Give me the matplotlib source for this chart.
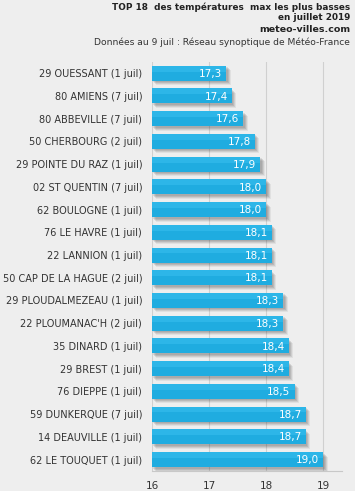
import matplotlib
matplotlib.use("Agg")
import matplotlib.pyplot as plt
import matplotlib.transforms as mtransforms

stations = ["29 OUESSANT (1 juil)", "80 AMIENS (7 juil)", "80 ABBEVILLE (7 juil)",
            "50 CHERBOURG (2 juil)", "29 POINTE DU RAZ (1 juil)", "02 ST QUENTIN (7 juil)",
            "62 BOULOGNE (1 juil)", "76 LE HAVRE (1 juil)", "22 LANNION (1 juil)",
            "50 CAP DE LA HAGUE (2 juil)", "29 PLOUDALMEZEAU (1 juil)", "22 PLOUMANAC'H (2 juil)",
            "35 DINARD (1 juil)", "29 BREST (1 juil)", "76 DIEPPE (1 juil)",
            "59 DUNKERQUE (7 juil)", "14 DEAUVILLE (1 juil)", "62 LE TOUQUET (1 juil)"]
values = [17.3, 17.4, 17.6, 17.8, 17.9, 18.0, 18.0, 18.1, 18.1,
          18.1, 18.3, 18.3, 18.4, 18.4, 18.5, 18.7, 18.7, 19.0]
xticks = [16, 17, 18, 19]

bg = "#EEEEEE"
fig = plt.figure(figsize=(3.55, 4.91), dpi=100, facecolor=bg)
ax = fig.add_axes([0.428, 0.041, 0.535, 0.833], facecolor=bg)

y = list(range(len(values)))
base = 16
widths = [v - base for v in values]

# blurred drop shadow
for dx, dy, a in [(1.5, -1.5, 0.12), (2.5, -2.5, 0.14), (3.5, -3.5, 0.12), (4.5, -4.5, 0.08)]:
    tr = mtransforms.offset_copy(ax.transData, fig=fig, x=dx, y=dy, units="dots")
    ax.barh(y, widths, left=base, height=0.66, color="#444444", alpha=a,
            transform=tr, zorder=2, linewidth=0)

ax.barh(y, widths, left=base, height=0.66, color="#1FACE0", zorder=3, linewidth=0)
# subtle lighter top strip
ax.barh([yy - 0.2 for yy in y], widths, left=base, height=0.26, color="#2DB6E8",
        zorder=3.5, linewidth=0)

for yy, v in zip(y, values):
    ax.text(v - 0.07, yy + 0.03, f"{v:.1f}".replace(".", ","), color="white",
            ha="right", va="center", fontsize=7.5, zorder=5, family="DejaVu Sans")

ax.set_xlim(16, 19.33)
ax.set_ylim(17.5, -0.5)
ax.set_yticks(y)
ax.set_yticklabels(stations, fontsize=7, color="#333333")
ax.set_xticks(xticks)
ax.set_xticklabels([str(t) for t in xticks], fontsize=7.5, color="#333333")
ax.tick_params(axis="y", length=0, pad=7)
ax.tick_params(axis="x", length=0, pad=7)
ax.grid(axis="x", color="#D0D0D0", linewidth=0.8, zorder=0)
ax.set_axisbelow(True)
for s in ["top", "right", "left"]:
    ax.spines[s].set_visible(False)
ax.spines["bottom"].set_color("#C8C8C8")
ax.spines["bottom"].set_linewidth(0.8)

tx = 350 / 355
fig.text(tx, 1 - 7 / 491, "TOP 18  des températures  max les plus basses", ha="right",
         va="center", fontsize=6.4, fontweight="bold", color="#222222")
fig.text(tx, 1 - 18 / 491, "en juillet 2019", ha="right", va="center", fontsize=6.4,
         fontweight="bold", color="#222222")
fig.text(tx, 1 - 30 / 491, "meteo-villes.com", ha="right", va="center", fontsize=6.8,
         fontweight="bold", color="#222222")
fig.text(tx, 1 - 42 / 491, "Données au 9 juil : Réseau synoptique de Météo-France",
         ha="right", va="center", fontsize=6.6, color="#333333")

fig.savefig("out.png", dpi=100, facecolor=bg)
